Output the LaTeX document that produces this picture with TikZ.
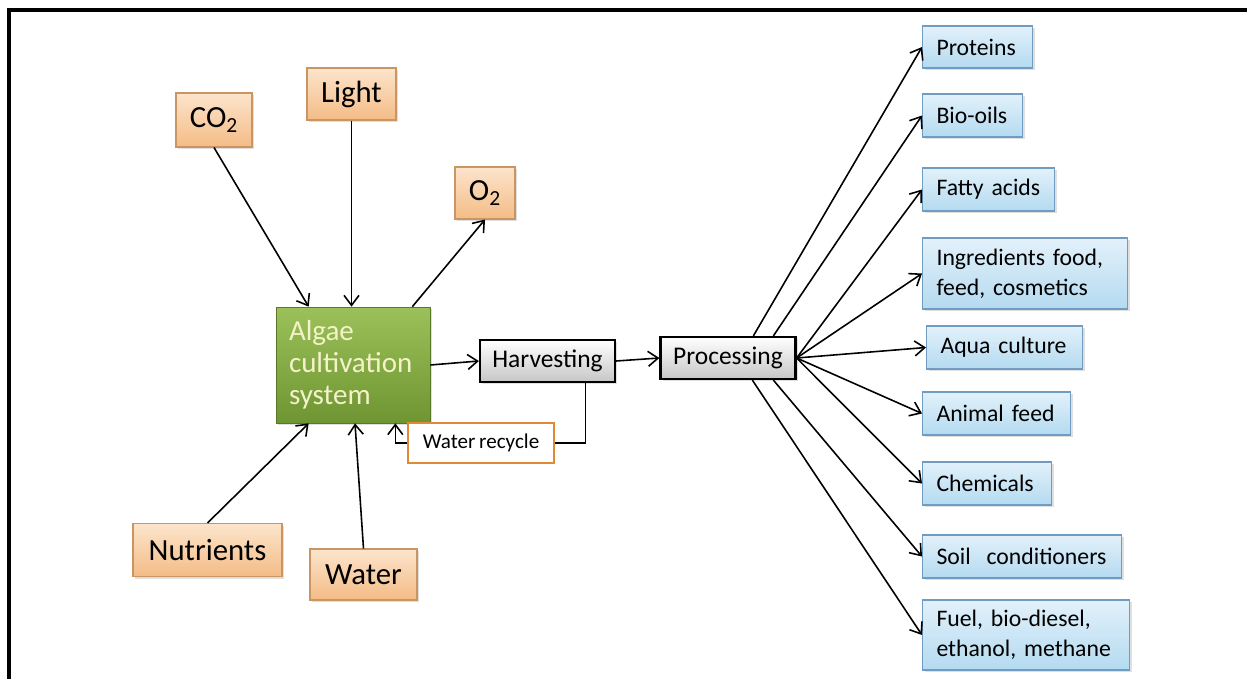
\documentclass[tikz,border=0pt]{standalone}
\usepackage{fontspec}
\setmainfont{Carlito}[WordSpace=0.8]
\usetikzlibrary{arrows.meta,calc,shadows}
\definecolor{orTop}{HTML}{FCE4CC}
\definecolor{orBot}{HTML}{F4BC86}
\definecolor{orLine}{HTML}{C99562}
\definecolor{blTop}{HTML}{E2F1FA}
\definecolor{blBot}{HTML}{B4DAF0}
\definecolor{blLine}{HTML}{6F9CC0}
\definecolor{grTop}{HTML}{FFFFFF}
\definecolor{grBot}{HTML}{C6C6C6}
\definecolor{gnTop}{HTML}{9CC15A}
\definecolor{gnBot}{HTML}{6E9532}
\definecolor{cream}{HTML}{F4F2C8}
\definecolor{wrLine}{HTML}{E08A35}
\begin{document}
\begin{tikzpicture}[x=0.02cm,y=-0.02cm,
  shad/.style={drop shadow={shadow xshift=1.2pt,shadow yshift=-1.2pt,opacity=0.25}},
  obox/.style={draw=orLine, line width=0.6pt, top color=orTop, bottom color=orBot, shad,
    inner sep=0pt, font=\fontsize{17.5}{20}\selectfont},
  rbox/.style={draw=blLine, line width=0.6pt, top color=blTop, bottom color=blBot, shad,
    anchor=west, inner xsep=0.28cm, inner ysep=0pt, align=left,
    font=\fontsize{13.5}{17}\selectfont},
  gbox/.style={draw=black, line width=1.3pt, top color=grTop, bottom color=grBot, shad,
    inner sep=0pt, minimum width=2.7cm, minimum height=0.84cm,
    font=\fontsize{14.5}{16}\selectfont},
  arr/.style={-{Straight Barb[length=0.2cm,width=0.3cm]}, line width=0.9pt},
  ln/.style={line width=0.9pt}
]
\useasboundingbox (0,0) rectangle (1247,679);
% frame
\draw[line width=0.07cm] (9,720) -- (9,10) -- (1280,10);

% inputs
\node[obox, minimum width=1.52cm, minimum height=1.08cm] (co2) at (214,120) {CO\textsubscript{2}};
\node[obox, minimum width=1.78cm, minimum height=1.04cm] (light) at (351.5,94) {Light};
\node[obox, minimum width=1.2cm, minimum height=1.04cm] (o2) at (485,193) {O\textsubscript{2}};
\node[obox, minimum width=2.98cm, minimum height=1.06cm] (nutr) at (207.5,550) {Nutrients};
\node[obox, minimum width=2.14cm, minimum height=1.02cm] (water) at (363.5,574.5) {Water};

% algae
\node[draw=gnBot!80!black, line width=0.4pt, top color=gnTop, bottom color=gnBot, shad,
  minimum width=3.08cm, minimum height=2.32cm, inner xsep=0.26cm, inner ysep=0pt,
  text width=2.56cm, align=left, text=cream, font=\fontsize{16.5}{18.2}\selectfont]
  (algae) at (353,365) {Algae\\cultivation\\system};

\node[gbox] (harv) at (547.5,361) {Harvesting};
\node[gbox] (proc) at (728,358) {Processing};

\node[draw=wrLine, line width=1.3pt, fill=white, minimum width=2.92cm, minimum height=0.8cm,
  inner sep=0pt, font=\fontsize{12}{14}\selectfont] (wr) at (481,443) {Water recycle};

% outputs
\node[rbox, text width=1.64cm, minimum height=0.84cm] (prot) at (922,47) {Proteins};
\node[rbox, text width=1.44cm, minimum height=0.86cm] (bio) at (922,115.5) {Bio-oils};
\node[rbox, text width=2.08cm, minimum height=0.86cm] (fatty) at (922,189.5) {Fatty acids};
\node[rbox, text width=3.54cm, minimum height=1.42cm] (ingr) at (922,273.5) {Ingredients food,\\feed, cosmetics};
\node[rbox, text width=2.56cm, minimum height=0.86cm] (aqua) at (926,347.5) {Aqua culture};
\node[rbox, text width=2.40cm, minimum height=0.86cm] (anim) at (922,413.5) {Animal feed};
\node[rbox, text width=2.02cm, minimum height=0.86cm] (chem) at (922,483.5) {Chemicals};
\node[rbox, text width=3.42cm, minimum height=0.86cm] (soil) at (922,556.5) {Soil\ \ conditioners};
\node[rbox, text width=3.58cm, minimum height=1.40cm] (fuel) at (922,635) {Fuel, bio-diesel,\\ethanol, methane};

% input arrows
\draw[arr] (co2.south) -- ($(algae.north west)+(33,0)$);
\draw[arr] (light.south) -- (light.south |- algae.north);
\draw[arr] ($(algae.north east)+(-18,0)$) -- (o2.south);
\draw[arr] (nutr.north) -- ($(algae.south west)+(33,0)$);
\draw[arr] (water.north) -- ($(algae.south)+(2,0)$);

% main flow
\draw[arr] (algae.east) -- (harv.west);
\draw[arr] (harv.east) -- (proc.west);
\draw[ln] ($(harv.south)+(38,0)$) |- (wr.east);
\draw[arr] (wr.west) -| ($(algae.south east)+(-35,0)$);

% output arrows
\draw[arr] ($(proc.north west)+(94,0)$) -- (prot.west);
\draw[arr] ($(proc.north west)+(114,0)$) -- (bio.west);
\draw[arr] (proc.east) -- (fatty.west);
\draw[arr] (proc.east) -- (ingr.west);
\draw[arr] (proc.east) -- (aqua.west);
\draw[arr] (proc.east) -- (anim.west);
\draw[arr] (proc.east) -- (chem.west);
\draw[arr] ($(proc.south west)+(114,0)$) -- (soil.west);
\draw[arr] ($(proc.south west)+(93,0)$) -- (fuel.west);
\end{tikzpicture}
\end{document}
